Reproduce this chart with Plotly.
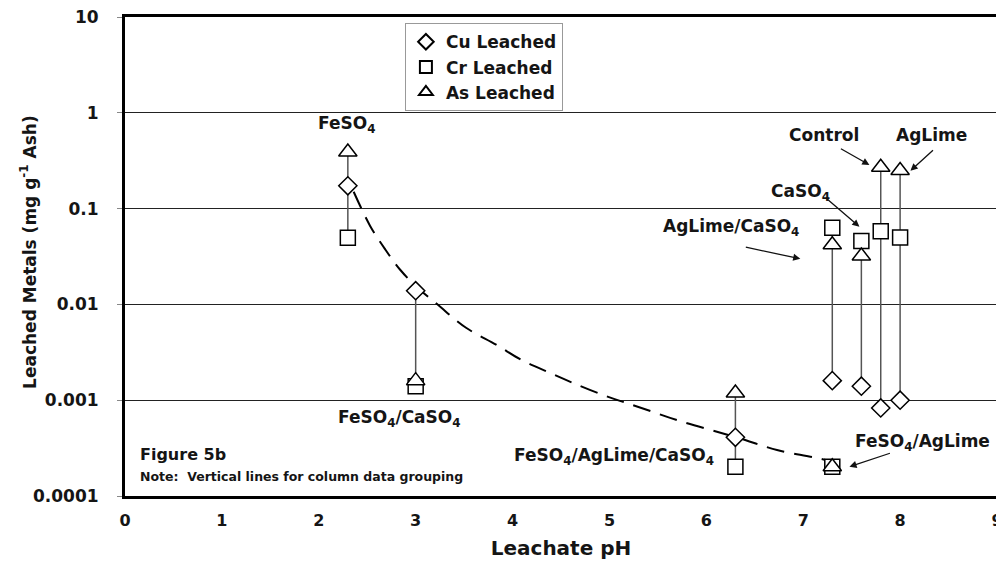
import math
import plotly.graph_objects as go

# ---------------- data ----------------
groups = ["FeSO4", "FeSO4/CaSO4", "FeSO4/AgLime/CaSO4", "FeSO4/AgLime",
          "AgLime/CaSO4", "CaSO4", "Control", "AgLime"]
leachate_ph = [2.3, 3.0, 6.3, 7.3, 7.3, 7.6, 7.8, 8.0]
cu_leached = [0.173, 0.0139, 0.00041, None, 0.0016, 0.0014, 0.00083, 0.001]
cr_leached = [0.0496, 0.0014, 0.000202, 0.000202, 0.063, 0.046, 0.058, 0.050]
as_leached = [0.39, 0.0016, 0.00119, 0.000202, 0.042, 0.032, 0.27, 0.25]

# dashed Cu trend curve
trend_ph = [2.36, 2.53, 2.69, 2.84, 3.0, 3.23, 3.52, 3.83, 4.09, 4.36, 4.62,
            4.98, 5.33, 5.74, 6.31, 6.74, 7.19, 7.27]
trend_cu = [0.150, 0.066, 0.037, 0.023, 0.0156, 0.0099, 0.0057, 0.0038,
            0.00264, 0.00198, 0.00152, 0.00109, 0.00083, 0.00060, 0.00041,
            0.00030, 0.000244, 0.000233]

xtick_vals = [0, 1, 2, 3, 4, 5, 6, 7, 8, 9]
ytick_vals = [0.0001, 0.001, 0.01, 0.1, 1, 10]
ytick_text = ["0.0001", "0.001", "0.01", "0.1", "1", "10"]

FONT = "DejaVu Sans, Liberation Sans, Arial, sans-serif"
TXT = "#151515"

fig = go.Figure()

# vertical grouping lines
for i, p in enumerate(leachate_ph):
    vals = [v for v in (cu_leached[i], cr_leached[i], as_leached[i]) if v is not None]
    lo, hi = min(vals), max(vals)
    if hi / lo > 1.05:
        fig.add_trace(go.Scatter(x=[p, p], y=[lo, hi], mode="lines",
                                 line=dict(color="#555555", width=1.5),
                                 showlegend=False, hoverinfo="skip"))

# trend curve
fig.add_trace(go.Scatter(x=trend_ph, y=trend_cu, mode="lines",
                         line=dict(color="black", width=2, dash="18px,10px",
                                   shape="spline", smoothing=1.0),
                         showlegend=False, hoverinfo="skip"))

mk_line = dict(color="black", width=1.5)
fig.add_trace(go.Scatter(x=leachate_ph, y=cu_leached, mode="markers",
                         name="Cu Leached", legendgroup="cu",
                         marker=dict(symbol="diamond", size=14, color="white", line=mk_line)))
fig.add_trace(go.Scatter(x=leachate_ph, y=cr_leached, mode="markers",
                         name="Cr Leached", legendgroup="cr",
                         marker=dict(symbol="square", size=15, color="white", line=mk_line)))
fig.add_trace(go.Scatter(x=leachate_ph, y=as_leached, mode="markers",
                         name="As Leached", legendgroup="as",
                         marker=dict(symbol="triangle-up", size=16, color="white", line=mk_line)))

annots = []
def txt(x, ylin, text, size=17, xanchor="center"):
    annots.append(dict(x=x, y=math.log10(ylin), xref="x", yref="y", text=text,
                       showarrow=False, xanchor=xanchor, yanchor="middle",
                       font=dict(family=FONT, size=size, color=TXT, weight="bold")))

def arrow(x, ylin, ax, ay):
    annots.append(dict(x=x, y=math.log10(ylin), xref="x", yref="y", text="",
                       showarrow=True, ax=ax, ay=ay, arrowhead=2, arrowsize=1.1,
                       arrowwidth=1.3, arrowcolor="#111"))

txt(2.29, 0.75, "FeSO<sub>4</sub>")
txt(2.83, 0.00064, "FeSO<sub>4</sub>/CaSO<sub>4</sub>")
txt(5.05, 0.00026, "FeSO<sub>4</sub>/AgLime/CaSO<sub>4</sub>")
txt(8.23, 0.00036, "FeSO<sub>4</sub>/AgLime")
txt(7.21, 0.59, "Control")
txt(8.32, 0.59, "AgLime")
txt(6.97, 0.148, "CaSO<sub>4</sub>")
txt(6.25, 0.063, "AgLime/CaSO<sub>4</sub>")

arrow(7.683, 0.286, -30, -17)
arrow(8.107, 0.248, 24, -22)
arrow(7.58, 0.0646, -35, -30)
arrow(6.97, 0.0299, -56, -12)
arrow(7.477, 0.000202, 42, -14)

annots.append(dict(x=0.015, y=0.086, xref="paper", yref="paper", text="Figure 5b",
                   showarrow=False, xanchor="left", yanchor="middle",
                   font=dict(family=FONT, size=16, color=TXT, weight="bold")))
annots.append(dict(x=0.015, y=0.04, xref="paper", yref="paper",
                   text="Note:  Vertical lines for column data grouping",
                   showarrow=False, xanchor="left", yanchor="middle",
                   font=dict(family=FONT, size=12.5, color=TXT, weight="bold")))
# y-axis title placed explicitly
annots.append(dict(x=-0.111, y=0.51, xref="paper", yref="paper",
                   text="Leached Metals (mg g<sup>-1</sup> Ash)", textangle=-90,
                   showarrow=False, xanchor="center", yanchor="middle",
                   font=dict(family=FONT, size=17, color=TXT, weight="bold")))

# the page body adds an 8px offset, so the figure is 8px smaller than the window
fig.update_layout(
    width=996, height=557,
    margin=dict(l=117, r=7, t=9, b=69, autoexpand=False),
    paper_bgcolor="white", plot_bgcolor="white",
    font=dict(family=FONT, color=TXT),
    annotations=annots,
    legend=dict(x=0.321, y=0.987, xanchor="left", yanchor="top",
                bgcolor="white", bordercolor="#999", borderwidth=1,
                font=dict(family=FONT, size=17, color=TXT, weight="bold"),
                tracegroupgap=0, itemsizing="constant"),
    xaxis=dict(range=[0, 9], tickvals=xtick_vals, showgrid=False, zeroline=False,
               showline=True, mirror=True, linewidth=3, linecolor="black",
               ticks="", ticklabelstandoff=8, automargin=False,
               ticklabeloverflow="allow",
               tickfont=dict(family=FONT, size=16, color=TXT, weight="bold"),
               title=dict(text="Leachate pH", standoff=12,
                          font=dict(family=FONT, size=20, color=TXT, weight="bold"))),
    yaxis=dict(type="log", range=[-4, 1], tickvals=ytick_vals, ticktext=ytick_text,
               showgrid=True, gridcolor="#222", gridwidth=1, zeroline=False,
               showline=True, mirror=True, linewidth=3, linecolor="black",
               ticks="outside", ticklen=5, tickcolor="#888", ticklabelstandoff=15,
               automargin=False, ticklabeloverflow="allow",
               tickfont=dict(family=FONT, size=17, color=TXT, weight="bold")),
)

fig.write_html("out.html")
